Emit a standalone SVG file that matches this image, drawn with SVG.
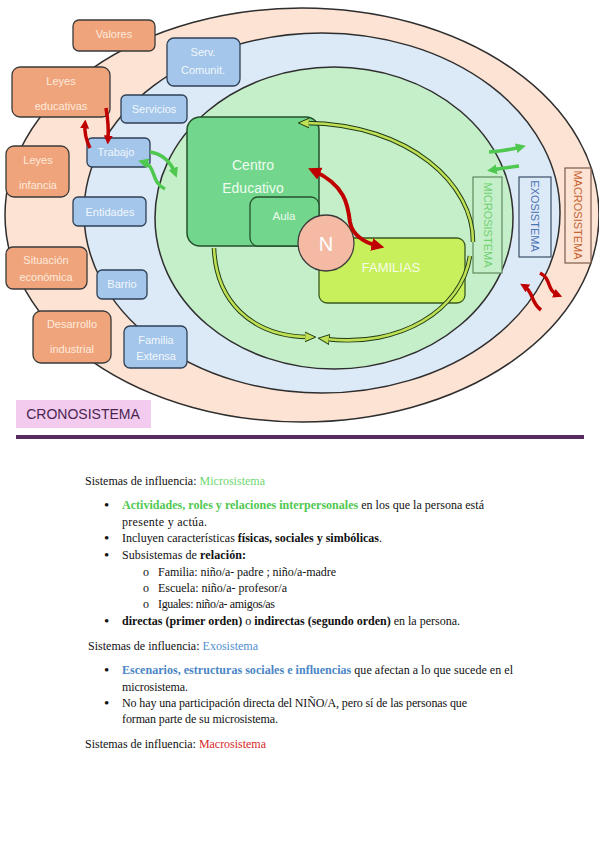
<svg xmlns="http://www.w3.org/2000/svg" width="599" height="848" viewBox="0 0 599 848">
<style>
.lbl{font-family:"Liberation Sans",Arial,sans-serif;font-size:11px;text-anchor:middle;dominant-baseline:central}
.or rect{fill:#f0a47b;stroke:#3a3a3a;stroke-width:1.3}
.or text{fill:#fdeadd}
.bl rect{fill:#a3c6ea;stroke:#2f3f55;stroke-width:1.3}
.bl text{fill:#f2f7fd}
.ell{stroke:#2e2e2e;stroke-width:1.5}
.t{font-family:"Liberation Serif","Times New Roman",serif;font-size:12px;fill:#111}
.bu{font-family:"Liberation Serif","Times New Roman",serif;font-size:15px;fill:#111}
.b{font-weight:bold}
.band-o{fill:none;stroke:#1f3a14;stroke-width:4.5}
.band-i{fill:none;stroke:#bfdf55;stroke-width:2.6}
.red{fill:none;stroke:#c00000;stroke-width:3.5}
.grn{fill:none;stroke:#4fc84f;stroke-width:3.5}
</style>
<defs>
<marker id="hr" viewBox="0 0 10 10" refX="5" refY="5" markerWidth="9" markerHeight="9" markerUnits="userSpaceOnUse" orient="auto-start-reverse"><path d="M0,0 L10,5 L0,10 z" fill="#c00000"/></marker>
<marker id="hrb" viewBox="0 0 10 10" refX="5" refY="5" markerWidth="13" markerHeight="13" markerUnits="userSpaceOnUse" orient="auto-start-reverse"><path d="M0,0 L10,5 L0,10 z" fill="#c00000"/></marker>
<marker id="hg" viewBox="0 0 10 10" refX="5" refY="5" markerWidth="10" markerHeight="10" markerUnits="userSpaceOnUse" orient="auto"><path d="M0,0 L10,5 L0,10 z" fill="#4fc84f"/></marker>
<marker id="hl" viewBox="0 0 10 10" refX="3" refY="5" markerWidth="11" markerHeight="11" markerUnits="userSpaceOnUse" orient="auto"><path d="M0,0.5 L10,5 L0,9.5 z" fill="#bfdf55" stroke="#1f3a14" stroke-width="0.9"/></marker>
</defs>

<!-- system ellipses -->
<g id="macrosistema"><ellipse class="ell" cx="302" cy="215" rx="297" ry="207" fill="#fde3d4"/></g>
<g id="exosistema"><ellipse class="ell" cx="322" cy="213" rx="238" ry="180" fill="#dce9f7"/></g>
<g id="microsistema"><ellipse class="ell" cx="334" cy="218" rx="179" ry="151" fill="#c5efc8"/></g>

<!-- macro boxes -->
<g id="valores" class="or lbl"><rect x="73" y="20" width="82" height="31" rx="6"/><text x="114" y="34">Valores</text></g>
<g id="leyes-educativas" class="or lbl"><rect x="12" y="67" width="98" height="50" rx="8"/><text x="61" y="81">Leyes</text><text x="61" y="106">educativas</text></g>
<g id="leyes-infancia" class="or lbl"><rect x="6" y="146" width="63" height="51" rx="8"/><text x="38" y="160">Leyes</text><text x="38" y="185">infancia</text></g>
<g id="situacion" class="or lbl"><rect x="6" y="247" width="81" height="42" rx="7"/><text x="46" y="260">Situación</text><text x="46" y="277">económica</text></g>
<g id="desarrollo" class="or lbl"><rect x="33" y="311" width="78" height="52" rx="8"/><text x="72" y="324">Desarrollo</text><text x="72" y="349">industrial</text></g>

<!-- exo boxes -->
<g id="serv-comunit" class="bl lbl"><rect x="167" y="38" width="73" height="48" rx="7"/><text x="203" y="52">Serv.</text><text x="203" y="70">Comunit.</text></g>
<g id="servicios" class="bl lbl"><rect x="121" y="95" width="66" height="28" rx="5"/><text x="154" y="109">Servicios</text></g>
<g id="trabajo" class="bl lbl"><rect x="87" y="138" width="63" height="29" rx="5"/><text x="116" y="152">Trabajo</text></g>
<g id="entidades" class="bl lbl"><rect x="73" y="197" width="73" height="29" rx="5"/><text x="110" y="212">Entidades</text></g>
<g id="barrio" class="bl lbl"><rect x="97" y="270" width="50" height="29" rx="5"/><text x="122" y="284">Barrio</text></g>
<g id="familia-extensa" class="bl lbl"><rect x="124" y="326" width="63" height="42" rx="6"/><text x="156" y="340">Familia</text><text x="156" y="356">Extensa</text></g>

<!-- micro nodes -->
<g id="centro-educativo"><rect x="187" y="117" width="132" height="129" rx="13" fill="#72d78c" stroke="#24502c" stroke-width="1.5"/><text class="lbl" x="253" y="165" style="font-size:14px" fill="#effbf0">Centro</text><text class="lbl" x="253" y="188" style="font-size:14px" fill="#effbf0">Educativo</text></g>
<g id="aula"><rect x="250" y="197" width="69" height="49" rx="8" fill="#72d78c" stroke="#24502c" stroke-width="1.3"/><text class="lbl" x="284" y="216" style="font-size:11.5px" fill="#effbf0">Aula</text></g>
<g id="familias"><rect x="319" y="238" width="146" height="65" rx="8" fill="#c8ef5c" stroke="#3a5a20" stroke-width="1.3"/><text class="lbl" x="391" y="267" style="font-size:13px" fill="#f6fde6">FAMILIAS</text></g>
<g id="nino"><circle cx="326" cy="243" r="28" fill="#f5baa4" stroke="#3a3a3a" stroke-width="1.3"/><text class="lbl" x="326" y="244" style="font-size:20px" fill="#fff">N</text></g>

<!-- side labels -->
<g id="lbl-micro"><rect x="473" y="177" width="29" height="96" fill="#c5efc8" stroke="#5f8a5f" stroke-width="1.2"/><text class="lbl" transform="translate(487.5,225) rotate(90)" fill="#6fd06f">MICROSISTEMA</text></g>
<g id="lbl-exo"><rect x="519" y="177" width="32" height="80" fill="#dce9f7" stroke="#3d4f66" stroke-width="1.2"/><text class="lbl" transform="translate(535,216) rotate(90)" fill="#4b72b3">EXOSISTEMA</text></g>
<g id="lbl-macro"><rect x="565" y="168" width="26" height="95" fill="#fde3d4" stroke="#7a5a4a" stroke-width="1.2"/><text class="lbl" transform="translate(578,215) rotate(90)" fill="#c5622f">MACROSISTEMA</text></g>

<!-- connectors -->
<g id="connectors">
<path class="band-o" d="M473,242 C474,185 410,124 306,123"/>
<path class="band-i" d="M473,242 C474,185 410,124 306,123" marker-end="url(#hl)"/>
<path class="band-o" d="M470,256 C462,310 400,348 326,339"/>
<path class="band-i" d="M470,256 C462,310 400,348 326,339" marker-end="url(#hl)"/>
<path class="band-o" d="M214,248 C216,300 250,336 308,337"/>
<path class="band-i" d="M214,248 C216,300 250,336 308,337" marker-end="url(#hl)"/>
<path class="red" style="stroke-width:4" d="M314,171 C345,185 348,205 350,222 C352,235 365,243 378,246" marker-start="url(#hrb)" marker-end="url(#hrb)"/>
<path class="red" d="M90,148 Q84,136 85,124" marker-end="url(#hr)"/>
<path class="red" d="M106,108 Q109,125 108,140" marker-end="url(#hr)"/>
<path class="grn" d="M150,152 Q168,155 175,173" marker-end="url(#hg)"/>
<path class="grn" d="M165,189 C150,182 157,166 143,162" marker-end="url(#hg)"/>
<path class="grn" d="M489,152 Q505,151 521,147" marker-end="url(#hg)"/>
<path class="grn" d="M519,166 Q505,168 492,170" marker-end="url(#hg)"/>
<path class="red" d="M540,273 C552,279 546,290 558,295" marker-end="url(#hr)"/>
<path class="red" d="M541,310 C530,302 534,292 524,286" marker-end="url(#hr)"/>
</g>

<g id="cronosistema"><rect x="16" y="400" width="135" height="28" fill="#f2cbee"/><text class="lbl" x="83" y="414" style="font-size:14px" fill="#4a2550">CRONOSISTEMA</text></g>
<rect x="16" y="435" width="568" height="4" fill="#5a2a62"/>

<!-- text section -->
<g id="texto">
<text class="t" x="85" y="485" textLength="180">Sistemas de influencia: <tspan fill="#6ed86e">Microsistema</tspan></text>
<text class="bu" x="104" y="510">•</text>
<text class="t" x="122" y="509" textLength="362"><tspan class="b" fill="#4fc84f">Actividades, roles y relaciones interpersonales</tspan> en los que la persona está</text>
<text class="t" x="122" y="526" textLength="85">presente y actúa.</text>
<text class="bu" x="104" y="543">•</text>
<text class="t" x="122" y="542" textLength="260">Incluyen características <tspan class="b">físicas, sociales y simbólicas</tspan>.</text>
<text class="bu" x="104" y="560">•</text>
<text class="t" x="122" y="559" textLength="124">Subsistemas de <tspan class="b">relación:</tspan></text>
<text class="t" x="143" y="576">o</text>
<text class="t" x="158" y="576" textLength="178">Familia: niño/a- padre ; niño/a-madre</text>
<text class="t" x="143" y="592">o</text>
<text class="t" x="158" y="592" textLength="129">Escuela: niño/a- profesor/a</text>
<text class="t" x="143" y="608">o</text>
<text class="t" x="158" y="608" textLength="117">Iguales: niño/a- amigos/as</text>
<text class="bu" x="104" y="626">•</text>
<text class="t" x="122" y="625" textLength="338"><tspan class="b">directas (primer orden)</tspan> o <tspan class="b">indirectas (segundo orden)</tspan> en la persona.</text>
<text class="t" x="88" y="650" textLength="170">Sistemas de influencia: <tspan fill="#4f8fd0">Exosistema</tspan></text>
<text class="bu" x="104" y="675" fill="#4f8fd0">•</text>
<text class="t" x="122" y="674" textLength="391"><tspan class="b" fill="#4a86c6">Escenarios, estructuras sociales e influencias</tspan> que afectan a lo que sucede en el</text>
<text class="t" x="122" y="691" textLength="66">microsistema.</text>
<text class="bu" x="104" y="708">•</text>
<text class="t" x="122" y="707" textLength="345">No hay una participación directa del NIÑO/A, pero sí de las personas que</text>
<text class="t" x="122" y="723" textLength="156">forman parte de su microsistema.</text>
<text class="t" x="85" y="748" textLength="181">Sistemas de influencia: <tspan fill="#d42a2a">Macrosistema</tspan></text>
</g>
</svg>
